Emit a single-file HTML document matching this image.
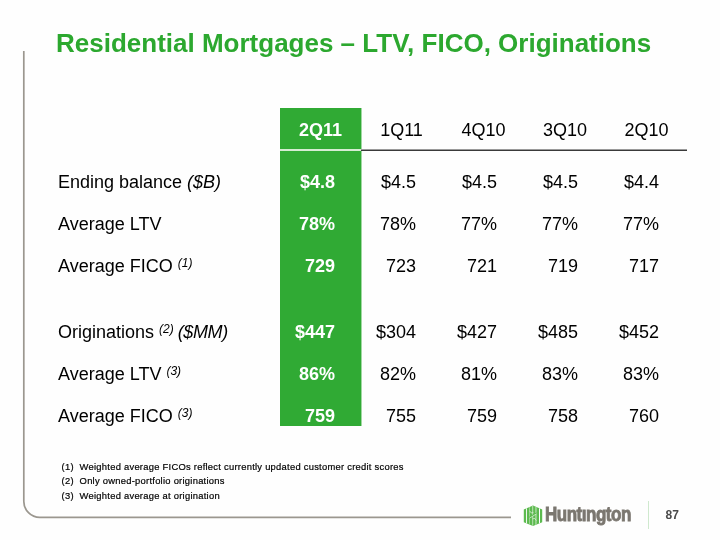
<!DOCTYPE html>
<html><head><meta charset="utf-8">
<style>
html,body{margin:0;padding:0;}
body{will-change:transform;width:720px;height:540px;position:relative;overflow:hidden;background:#fefefe;font-family:"Liberation Sans",sans-serif;}
.a{position:absolute;white-space:nowrap;}
#title{left:56px;top:28px;font-size:26px;font-weight:bold;color:#2ca82f;line-height:30px;}
#vline{left:23px;top:51px;width:2px;height:450px;background:#a9a69f;}
#corner{left:23px;top:485px;width:30px;height:30px;border-left:2px solid #a9a69f;border-bottom:2px solid #a9a69f;border-bottom-left-radius:17px;box-sizing:content-box;}
#hline{left:40px;top:515px;width:470px;height:2px;background:#a9a69f;}
#green{left:280px;top:108px;width:81px;height:318px;background:#30aa34;}
#gsep{left:280px;top:149px;width:81px;height:2px;background:#d6ecd3;}
#dline{left:361px;top:149px;width:326px;height:1px;background:#9a9a9a;}
#dline2{left:361px;top:150px;width:326px;height:1px;background:#3a3a3a;}
.row{position:absolute;left:0;width:720px;height:20px;font-size:18px;line-height:20px;color:#000;}
.lab{position:absolute;left:58px;}
.c{position:absolute;text-align:right;width:60px;}
.g{color:#fff;font-weight:bold;}
.hd{position:absolute;text-align:center;width:81px;}
sup{font-size:12px;font-style:italic;vertical-align:0;position:relative;top:-5px;}
i{font-style:italic;}
.fn{position:absolute;left:61.6px;font-size:9.4px;letter-spacing:0.26px;line-height:12px;color:#000;-webkit-text-stroke:0.2px #000;}
.fn span{position:absolute;left:18px;white-space:nowrap;}
#logo{left:521px;top:503px;width:24px;height:25px;}
#word{left:545px;top:501px;font-size:21px;font-weight:bold;color:#7b7770;transform-origin:0 0;transform:scaleX(0.81);line-height:26px;-webkit-text-stroke:0.9px #7b7770;letter-spacing:-0.6px;}
#sep{left:648.2px;top:500.5px;width:1.3px;height:28.5px;background:#cfe9ce;}
#pnum{left:665.5px;top:508px;font-size:12px;font-weight:bold;color:#4a4a4a;line-height:14px;}
</style></head><body>
<div class="a" id="title">Residential Mortgages – LTV, FICO, Originations</div>
<svg class="a" style="left:0;top:0" width="720" height="540"><path d="M23.8 51 V501.4 A16 16 0 0 0 39.8 517.4 H511" fill="none" stroke="#9b978f" stroke-width="1.7"/></svg>
<div class="a" id="green"></div>
<div class="a" id="gsep"></div><div class="a" style="left:361px;top:108px;width:1px;height:318px;background:rgba(48,170,52,0.45)"></div>
<div class="a" id="dline"></div><div class="a" id="dline2"></div>

<div class="row" style="top:120px">
  <div class="hd g" style="left:280px">2Q11</div>
  <div class="hd" style="left:361px">1Q11</div>
  <div class="hd" style="left:443px">4Q10</div>
  <div class="hd" style="left:524.5px">3Q10</div>
  <div class="hd" style="left:606px">2Q10</div>
</div>

<div class="row" style="top:172px">
  <div class="lab">Ending balance <i>($B)</i></div>
  <div class="c g" style="left:275px">$4.8</div>
  <div class="c" style="left:356px">$4.5</div>
  <div class="c" style="left:437px">$4.5</div>
  <div class="c" style="left:518px">$4.5</div>
  <div class="c" style="left:599px">$4.4</div>
</div>
<div class="row" style="top:214px">
  <div class="lab">Average LTV</div>
  <div class="c g" style="left:275px">78%</div>
  <div class="c" style="left:356px">78%</div>
  <div class="c" style="left:437px">77%</div>
  <div class="c" style="left:518px">77%</div>
  <div class="c" style="left:599px">77%</div>
</div>
<div class="row" style="top:256px">
  <div class="lab">Average FICO <sup>(1)</sup></div>
  <div class="c g" style="left:275px">729</div>
  <div class="c" style="left:356px">723</div>
  <div class="c" style="left:437px">721</div>
  <div class="c" style="left:518px">719</div>
  <div class="c" style="left:599px">717</div>
</div>
<div class="row" style="top:322px">
  <div class="lab">Originations <sup>(2)</sup> <i style="letter-spacing:-0.4px;margin-left:-1px">($MM)</i></div>
  <div class="c g" style="left:275px">$447</div>
  <div class="c" style="left:356px">$304</div>
  <div class="c" style="left:437px">$427</div>
  <div class="c" style="left:518px">$485</div>
  <div class="c" style="left:599px">$452</div>
</div>
<div class="row" style="top:364px">
  <div class="lab">Average LTV <sup>(3)</sup></div>
  <div class="c g" style="left:275px">86%</div>
  <div class="c" style="left:356px">82%</div>
  <div class="c" style="left:437px">81%</div>
  <div class="c" style="left:518px">83%</div>
  <div class="c" style="left:599px">83%</div>
</div>
<div class="row" style="top:406px">
  <div class="lab">Average FICO <sup>(3)</sup></div>
  <div class="c g" style="left:275px">759</div>
  <div class="c" style="left:356px">755</div>
  <div class="c" style="left:437px">759</div>
  <div class="c" style="left:518px">758</div>
  <div class="c" style="left:599px">760</div>
</div>

<div class="fn" style="top:461px">(1)<span>Weighted average FICOs reflect currently updated customer credit scores</span></div>
<div class="fn" style="top:475.4px">(2)<span>Only owned-portfolio originations</span></div>
<div class="fn" style="top:489.8px">(3)<span>Weighted average at origination</span></div>

<svg class="a" id="logo" width="24" height="25" viewBox="0 0 24 25">
  <defs><clipPath id="hx"><polygon points="12,2.4 21.2,6.4 21.2,19.2 12,23 2.8,19.2 2.8,6.4"/></clipPath></defs>
  <g clip-path="url(#hx)">
    <rect x="0" y="0" width="24" height="25" fill="#5cba4f"/>
    <rect x="5.0" y="0" width="0.9" height="25" fill="#fefefe"/>
    <rect x="18.0" y="0" width="1.0" height="25" fill="#fefefe"/>
    <rect x="8.0" y="0" width="0.7" height="25" fill="#b3ddaa"/>
    <rect x="11.1" y="0" width="1.1" height="25" fill="#b3ddaa"/>
    <rect x="14.3" y="0" width="1.3" height="25" fill="#b3ddaa"/>
    <path d="M8.5 15.2 L15.6 10.8 L15.6 9.2 L8.5 13.6 Z" fill="#5cba4f"/>
    <g stroke="#e6f4e2" fill="none">
      <path d="M8.6 7.8 Q10 11.2 12.4 9.6" stroke-width="0.7"/>
      <path d="M8.6 15.1 L15.4 10.9" stroke-width="0.7"/>
      <path d="M15.4 17.6 Q14 14.2 11.6 15.8" stroke-width="0.7"/>
    </g>
  </g>
</svg>
<div class="a" id="word">Hunt&#305;ngton</div>
<div class="a" id="sep"></div>
<div class="a" id="pnum">87</div>
</body></html>
